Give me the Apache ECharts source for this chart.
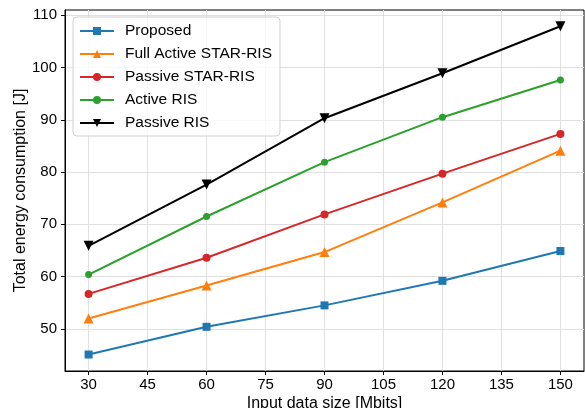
<!DOCTYPE html>
<html>
<head>
<meta charset="utf-8">
<script src="https://cdn.jsdelivr.net/npm/echarts@6/dist/echarts.min.js"></script>
<style>
  html, body { margin: 0; padding: 0; background: #fff; }
  #chart { width: 585px; height: 408px; }
</style>
</head>
<body>
<div id="chart"></div>
<script>
// Input data size [Mbits]
const dataSizes = [30, 60, 90, 120, 150];
const xTicks = [30, 45, 60, 75, 90, 105, 120, 135, 150];
const yTicks = [50, 60, 70, 80, 90, 100, 110];

// Total energy consumption [J] per scheme
const proposed = [45.1, 50.4, 54.5, 59.2, 64.9];
const fullActiveStar = [52.0, 58.3, 64.7, 74.2, 84.1];
const passiveStar = [56.7, 63.6, 71.9, 79.7, 87.3];
const activeRis = [60.4, 71.5, 81.9, 90.5, 97.6];
const passiveRis = [65.9, 77.6, 90.3, 98.9, 107.9];

const pairs = ys => dataSizes.map((x, i) => [x, ys[i]]);

const font = 'Liberation Sans, Arial, Helvetica, sans-serif';

function lineSeries(name, ys, color, symbol, size, rotate) {
  return {
    name: name,
    type: 'line',
    data: pairs(ys),
    symbol: symbol,
    symbolSize: size,
    symbolRotate: rotate || 0,
    showAllSymbol: true,
    lineStyle: { color: color, width: 2 },
    itemStyle: { color: color, borderWidth: 0 },
    emphasis: { disabled: true },
    animation: false
  };
}

const chart = echarts.init(document.getElementById('chart'), null, { renderer: 'canvas' });

chart.setOption({
  animation: false,
  backgroundColor: '#ffffff',
  grid: {
    left: 65, right: 1, top: 10, bottom: 37,
    containLabel: false, outerBoundsMode: 'none',
    show: true, borderColor: '#000', borderWidth: 1, backgroundColor: 'transparent'
  },
  legend: {
    left: 73, top: 17,
    orient: 'vertical',
    itemWidth: 34, itemHeight: 10, itemGap: 7,
    padding: [6, 8, 5, 6],
    backgroundColor: 'rgba(255,255,255,0.8)',
    borderColor: '#d0d0d0', borderWidth: 1, borderRadius: 4,
    textStyle: { fontFamily: font, fontSize: 15.5, color: '#000', lineHeight: 15, padding: [0, 0, 0, 6] },
    data: ['Proposed', 'Full Active STAR-RIS', 'Passive STAR-RIS', 'Active RIS', 'Passive RIS']
  },
  xAxis: {
    type: 'value',
    min: 24, max: 156,
    name: 'Input data size [Mbits]',
    nameLocation: 'middle', nameGap: 25, nameMoveOverlap: false,
    nameTextStyle: { fontFamily: font, fontSize: 16, color: '#000' },
    axisLine: { show: true, onZero: false, lineStyle: { color: '#000', width: 1 } },
    axisTick: { show: true, inside: false, length: 4, lineStyle: { color: '#000' }, customValues: xTicks },
    axisLabel: { fontFamily: font, fontSize: 15, color: '#000', margin: 6, customValues: xTicks },
    splitLine: { show: true, lineStyle: { color: '#e0e0e0', width: 1 } }
  },
  yAxis: {
    type: 'value',
    min: 41.95, max: 111.0,
    name: 'Total energy consumption [J]',
    nameLocation: 'middle', nameGap: 36, nameMoveOverlap: false,
    nameTextStyle: { fontFamily: font, fontSize: 16, color: '#000' },
    axisLine: { show: true, onZero: false, lineStyle: { color: '#000', width: 1 } },
    axisTick: { show: true, inside: false, length: 4, lineStyle: { color: '#000' }, customValues: yTicks },
    axisLabel: { fontFamily: font, fontSize: 15, color: '#000', margin: 8, customValues: yTicks },
    splitLine: { show: true, lineStyle: { color: '#e0e0e0', width: 1 } }
  },
  series: [
    lineSeries('Proposed', proposed, '#1f77b4', 'rect', 8),
    lineSeries('Full Active STAR-RIS', fullActiveStar, '#ff7f0e', 'triangle', 10),
    lineSeries('Passive STAR-RIS', passiveStar, '#d62728', 'circle', 8),
    lineSeries('Active RIS', activeRis, '#2ca02c', 'circle', 7),
    lineSeries('Passive RIS', passiveRis, '#000000', 'triangle', 10, 180)
  ]
});
</script>
</body>
</html>
